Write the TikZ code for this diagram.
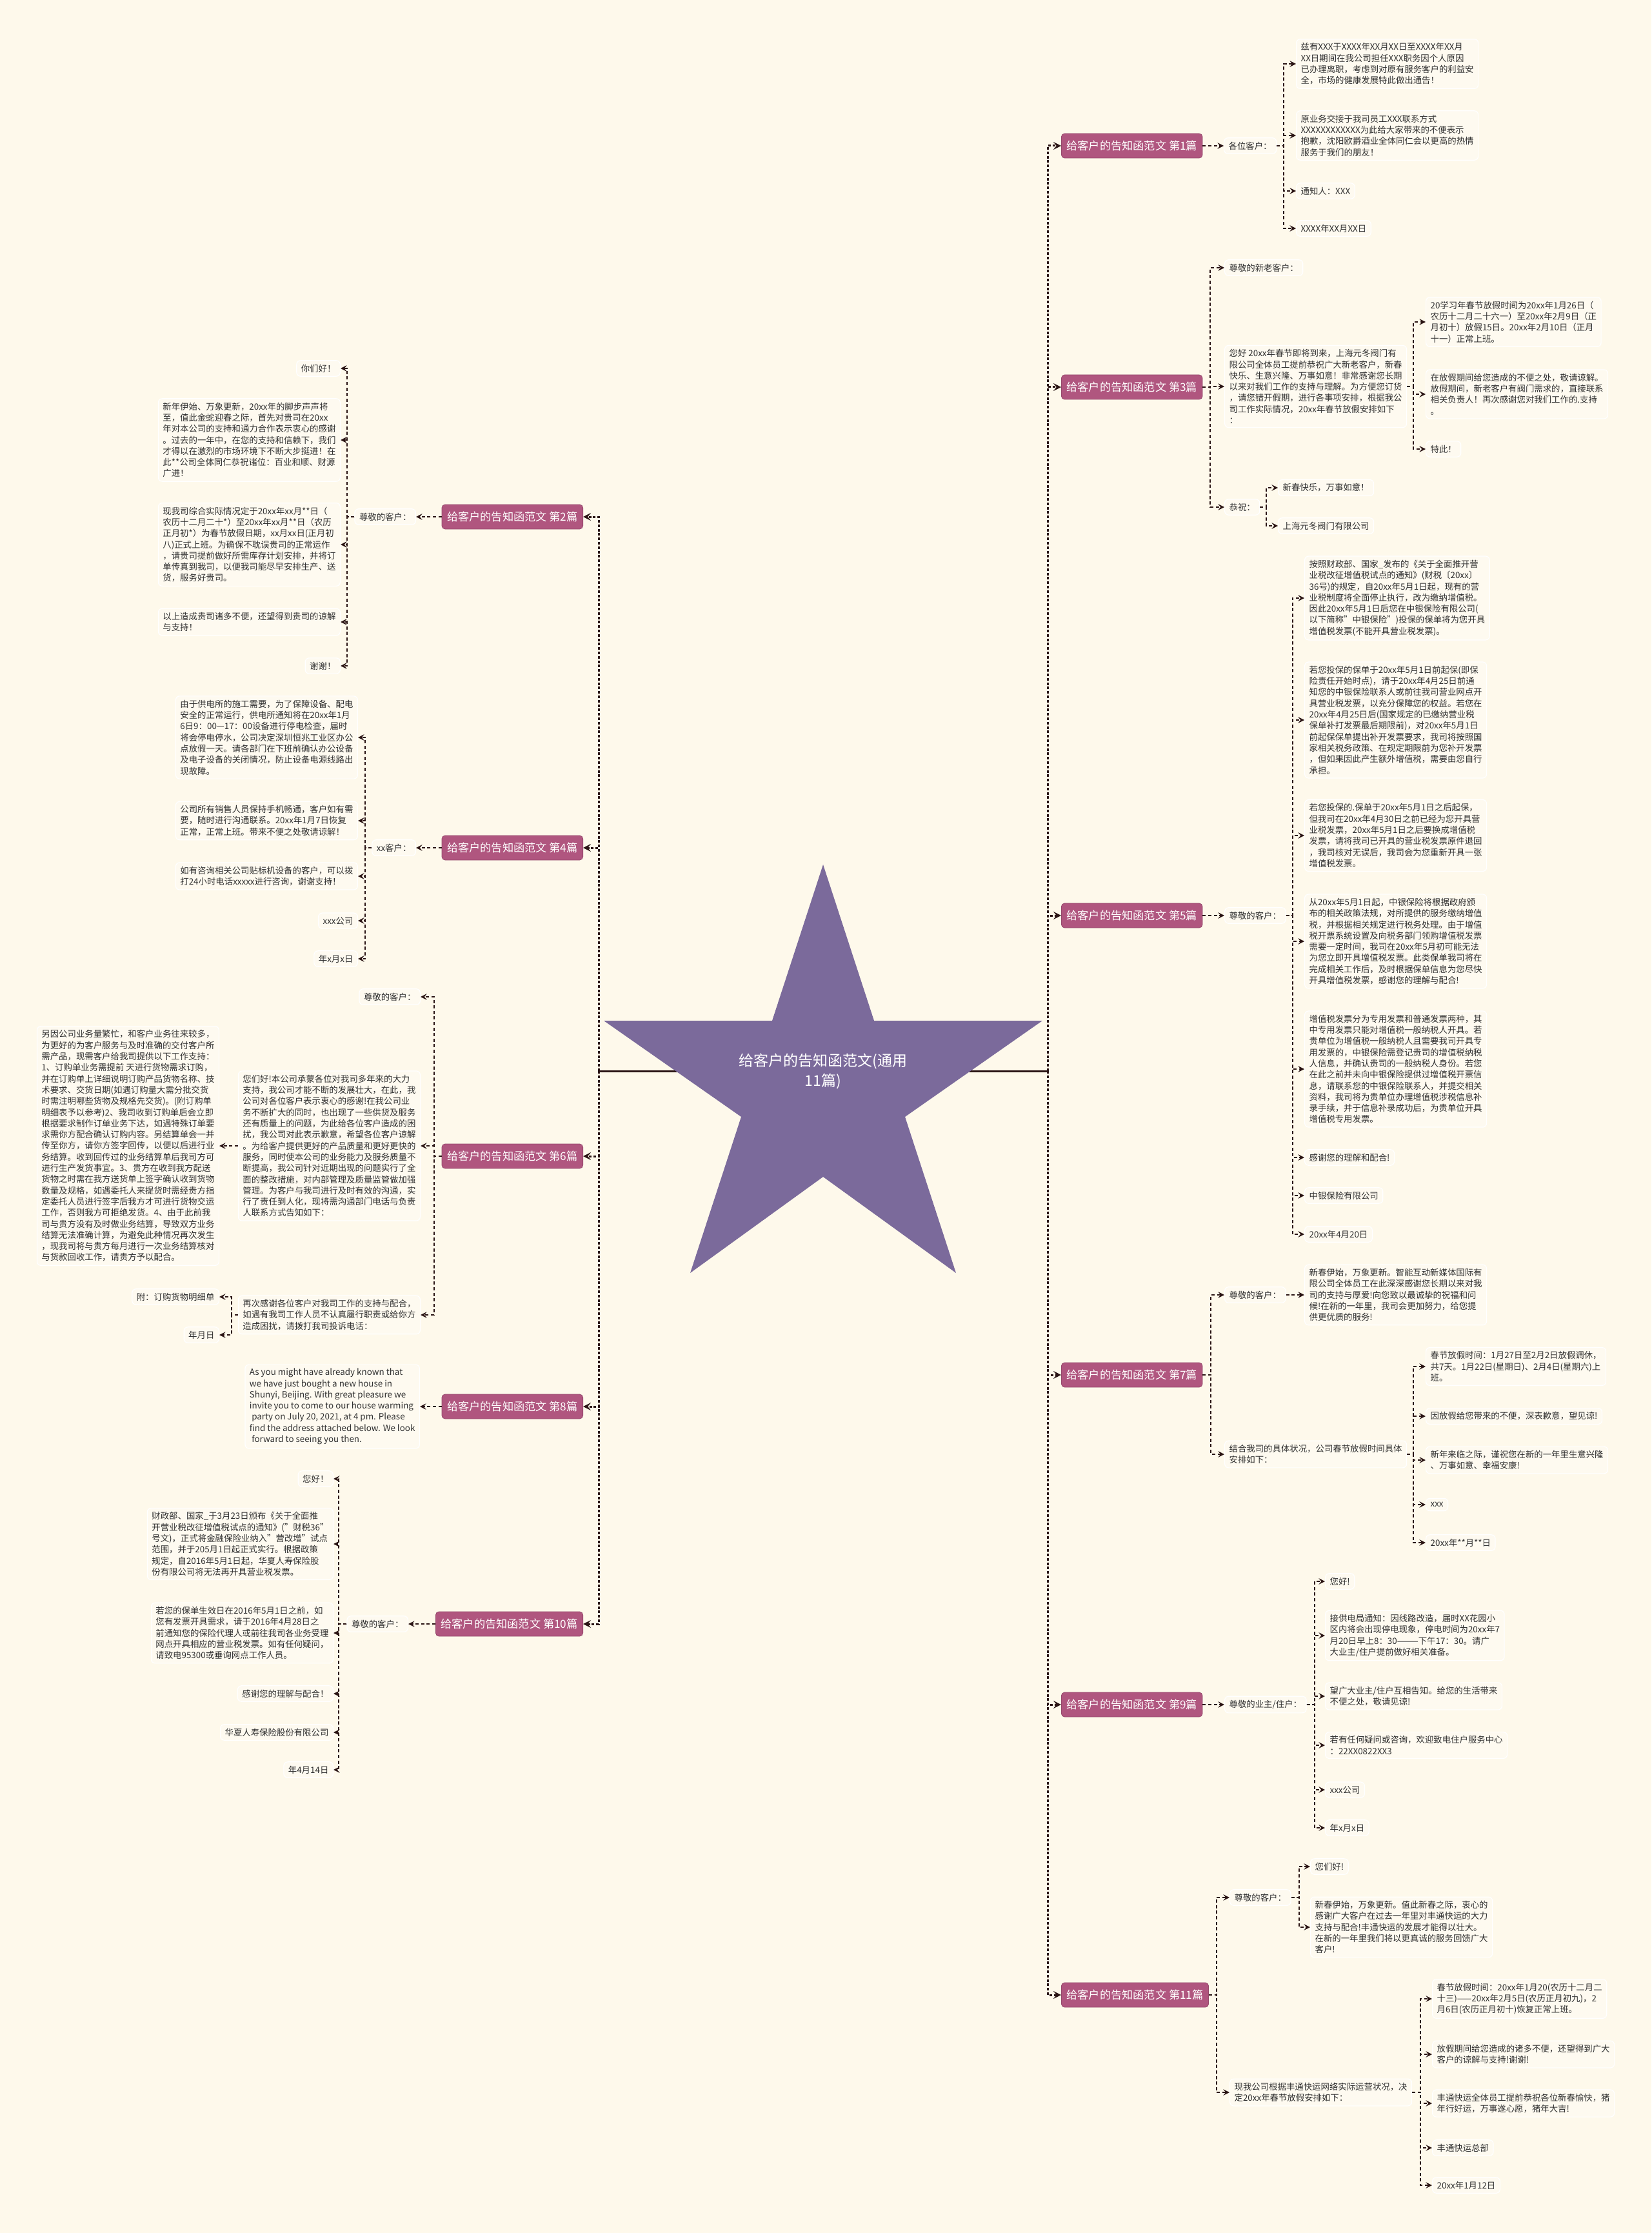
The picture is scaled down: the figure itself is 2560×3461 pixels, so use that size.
\documentclass[tikz,border=0pt]{standalone}
\usepackage{fontspec}
\setmainfont{Noto Sans CJK SC}
\usetikzlibrary{arrows.meta}
\definecolor{bgc}{HTML}{FEF9EB}
\definecolor{brc}{HTML}{B0567F}
\definecolor{starc}{HTML}{7B6A9B}
\definecolor{lnc}{HTML}{2A1414}
\definecolor{txc}{HTML}{303030}
\begin{document}
\begin{tikzpicture}[x=0.5pt,y=-0.5pt,
  lbox/.style={draw=white, fill=white!25!bgc, rounded corners=3pt, line width=0.6pt,
    inner xsep=3.5pt, inner ysep=3pt, text=txc, align=left,
    font=\fontsize{6.7pt}{8.65pt}\selectfont},
  R/.style={lbox, anchor=west},
  L/.style={lbox, anchor=east},
  brbox/.style={fill=brc, draw=brc!85!black, line width=0.4pt, rounded corners=2.5pt, text=white,
    inner xsep=4pt, minimum height=19pt, font=\fontsize{8.6pt}{10pt}\selectfont},
  brR/.style={brbox, anchor=west},
  brL/.style={brbox, anchor=east},
  conn/.style={draw=lnc, line width=0.95pt, dash pattern=on 2.5pt off 1.8pt,
    -{Stealth[length=4.8pt,width=4.8pt,inset=1.9pt]}},
  trunk/.style={draw=lnc, line width=1.5pt, dash pattern=on 2pt off 1.4pt,
    -{Stealth[length=6pt,width=6pt,inset=2.4pt]}},
  title/.style={text=white, align=center, font=\fontsize{11.5pt}{15.5pt}\selectfont}
]
\fill[bgc] (0,0) rectangle (2560,3461);
\useasboundingbox (0,0) rectangle (2560,3461);

% ---------- centre ----------
\coordinate (root) at (1276,1660);
\coordinate (lt) at (928,1660);
\coordinate (rt) at (1624,1660);
\draw[lnc, line width=1.5pt] (root) -- (lt);
\draw[lnc, line width=1.5pt] (root) -- (rt);
\fill[starc] (1276,1340) -- (1355,1582) -- (1616,1582) -- (1403,1731) -- (1482,1973)
  -- (1276,1824) -- (1070,1973) -- (1149,1731) -- (936,1582) -- (1197,1582) -- cycle;
\node[title] (ttl) at (1276,1660) {给客户的告知函范文(通用\\11篇)};

% ---------- branch boxes ----------
\node[brR] (b1) at (1645,226) {给客户的告知函范文 第1篇};
\node[brR] (b3) at (1645,600) {给客户的告知函范文 第3篇};
\node[brR] (b5) at (1645,1419) {给客户的告知函范文 第5篇};
\node[brR] (b7) at (1645,2131) {给客户的告知函范文 第7篇};
\node[brR] (b9) at (1645,2642) {给客户的告知函范文 第9篇};
\node[brR] (b11) at (1645,3092) {给客户的告知函范文 第11篇};
\node[brL] (b2) at (904,801) {给客户的告知函范文 第2篇};
\node[brL] (b4) at (904,1314) {给客户的告知函范文 第4篇};
\node[brL] (b6) at (904,1792) {给客户的告知函范文 第6篇};
\node[brL] (b8) at (904,2180) {给客户的告知函范文 第8篇};
\node[brL] (b10) at (904,2517) {给客户的告知函范文 第10篇};

\foreach \b in {b1,b3,b5,b7,b9,b11} \draw[trunk] (rt) |- (\b.west);
\foreach \b in {b2,b4,b6,b8,b10} \draw[trunk] (lt) |- (\b.east);

% ---------- branch 1 ----------
\node[R] (c1) at (1897,226) {各位客户：};
\node[R] (l1a) at (2009,99) {兹有XXX于XXXX年XX月XX日至XXXX年XX月\\XX日期间在我公司担任XXX职务因个人原因\\已办理离职，考虑到对原有服务客户的利益安\\全，市场的健康发展特此做出通告！};
\node[R] (l1b) at (2009,210) {原业务交接于我司员工XXX联系方式\\XXXXXXXXXXXX为此给大家带来的不便表示\\抱歉，沈阳欧爵酒业全体同仁会以更高的热情\\服务于我们的朋友！};
\node[R] (l1c) at (2009,296) {通知人：XXX};
\node[R] (l1d) at (2009,354) {XXXX年XX月XX日};
\draw[conn] (b1.east) -- (c1.west);
\foreach \n in {l1a,l1b,l1c,l1d} \draw[conn] (c1.east) -- ++(11,0) |- (\n.west);

% ---------- branch 3 ----------
\node[R] (c3a) at (1898,415) {尊敬的新老客户：};
\node[R] (c3b) at (1898,599) {您好 20xx年春节即将到来，上海元冬阀门有\\限公司全体员工提前恭祝广大新老客户，新春\\快乐、生意兴隆、万事如意！非常感谢您长期\\以来对我们工作的支持与理解。为方便您订货\\，请您错开假期，进行各事项安排，根据我公\\司工作实际情况，20xx年春节放假安排如下\\：};
\node[R] (c3c) at (1898,786) {恭祝：};
\node[R] (g3a) at (2210,499) {20学习年春节放假时间为20xx年1月26日（\\农历十二月二十六一）至20xx年2月9日（正\\月初十）放假15日。20xx年2月10日（正月\\十一）正常上班。};
\node[R] (g3b) at (2210,611) {在放假期间给您造成的不便之处，敬请谅解。\\放假期间，新老客户有阀门需求的，直接联系\\相关负责人！再次感谢您对我们工作的.支持\\。};
\node[R] (g3c) at (2210,696) {特此！};
\node[R] (g3d) at (1981,756) {新春快乐，万事如意！};
\node[R] (g3e) at (1981,815) {上海元冬阀门有限公司};
\foreach \n in {c3a,c3b,c3c} \draw[conn] (b3.east) -- ++(12,0) |- (\n.west);
\foreach \n in {g3a,g3b,g3c} \draw[conn] (c3b.east) -- ++(10,0) |- (\n.west);
\foreach \n in {g3d,g3e} \draw[conn] (c3c.east) -- ++(10,0) |- (\n.west);

% ---------- branch 5 ----------
\node[R] (c5) at (1898,1419) {尊敬的客户：};
\node[R] (l5a) at (2022,927) {按照财政部、国家\_发布的《关于全面推开营\\业税改征增值税试点的通知》(财税〔20xx〕\\36号)的规定，自20xx年5月1日起，现有的营\\业税制度将全面停止执行，改为缴纳增值税。\\因此20xx年5月1日后您在中银保险有限公司(\\以下简称"中银保险")投保的保单将为您开具\\增值税发票(不能开具营业税发票)。};
\node[R] (l5b) at (2022,1116) {若您投保的保单于20xx年5月1日前起保(即保\\险责任开始时点)，请于20xx年4月25日前通\\知您的中银保险联系人或前往我司营业网点开\\具营业税发票，以充分保障您的权益。若您在\\20xx年4月25日后(国家规定的已缴纳营业税\\保单补打发票最后期限前)，对20xx年5月1日\\前起保保单提出补开发票要求，我司将按照国\\家相关税务政策、在规定期限前为您补开发票\\，但如果因此产生额外增值税，需要由您自行\\承担。};
\node[R] (l5c) at (2022,1295) {若您投保的.保单于20xx年5月1日之后起保，\\但我司在20xx年4月30日之前已经为您开具营\\业税发票，20xx年5月1日之后要换成增值税\\发票，请将我司已开具的营业税发票原件退回\\，我司核对无误后，我司会为您重新开具一张\\增值税发票。};
\node[R] (l5d) at (2022,1459) {从20xx年5月1日起，中银保险将根据政府颁\\布的相关政策法规，对所提供的服务缴纳增值\\税，并根据相关规定进行税务处理。由于增值\\税开票系统设置及向税务部门领购增值税发票\\需要一定时间，我司在20xx年5月初可能无法\\为您立即开具增值税发票。此类保单我司将在\\完成相关工作后，及时根据保单信息为您尽快\\开具增值税发票，感谢您的理解与配合!};
\node[R] (l5e) at (2022,1657) {增值税发票分为专用发票和普通发票两种，其\\中专用发票只能对增值税一般纳税人开具。若\\贵单位为增值税一般纳税人且需要我司开具专\\用发票的，中银保险需登记贵司的增值税纳税\\人信息，并确认贵司的一般纳税人身份。若您\\在此之前并未向中银保险提供过增值税开票信\\息，请联系您的中银保险联系人，并提交相关\\资料，我司将为贵单位办理增值税涉税信息补\\录手续，并于信息补录成功后，为贵单位开具\\增值税专用发票。};
\node[R] (l5f) at (2022,1794) {感谢您的理解和配合!};
\node[R] (l5g) at (2022,1853) {中银保险有限公司};
\node[R] (l5h) at (2022,1913) {20xx年4月20日};
\draw[conn] (b5.east) -- (c5.west);
\foreach \n in {l5a,l5b,l5c,l5d,l5e,l5f,l5g,l5h} \draw[conn] (c5.east) -- ++(10,0) |- (\n.west);

% ---------- branch 7 ----------
\node[R] (c7a) at (1898,2007) {尊敬的客户：};
\node[R] (g7a) at (2022,2007) {新春伊始，万象更新。智能互动新媒体国际有\\限公司全体员工在此深深感谢您长期以来对我\\司的支持与厚爱!向您致以最诚挚的祝福和问\\候!在新的一年里，我司会更加努力，给您提\\供更优质的服务!};
\node[R] (c7b) at (1898,2254) {结合我司的具体状况，公司春节放假时间具体\\安排如下：};
\node[R] (g7b) at (2210,2118) {春节放假时间：1月27日至2月2日放假调休，\\共7天。1月22日(星期日)、2月4日(星期六)上\\班。};
\node[R] (g7c) at (2210,2195) {因放假给您带来的不便，深表歉意，望见谅!};
\node[R] (g7d) at (2210,2263) {新年来临之际，谨祝您在新的一年里生意兴隆\\、万事如意、幸福安康!};
\node[R] (g7e) at (2210,2332) {xxx};
\node[R] (g7f) at (2210,2391) {20xx年**月**日};
\foreach \n in {c7a,c7b} \draw[conn] (b7.east) -- ++(13,0) |- (\n.west);
\draw[conn] (c7a.east) -- (g7a.west);
\foreach \n in {g7b,g7c,g7d,g7e,g7f} \draw[conn] (c7b.east) -- ++(10,0) |- (\n.west);

% ---------- branch 9 ----------
\node[R] (c9) at (1898,2642) {尊敬的业主/住户：};
\node[R] (l9a) at (2054,2451) {您好!};
\node[R] (l9b) at (2054,2535) {接供电局通知：因线路改造，届时XX花园小\\区内将会出现停电现象，停电时间为20xx年7\\月20日早上8：30———下午17：30。请广\\大业主/住户提前做好相关准备。};
\node[R] (l9c) at (2054,2629) {望广大业主/住户互相告知。给您的生活带来\\不便之处，敬请见谅!};
\node[R] (l9d) at (2054,2705) {若有任何疑问或咨询，欢迎致电住户服务中心\\：22XX0822XX3};
\node[R] (l9e) at (2054,2774) {xxx公司};
\node[R] (l9f) at (2054,2833) {年x月x日};
\draw[conn] (b9.east) -- (c9.west);
\foreach \n in {l9a,l9b,l9c,l9d,l9e,l9f} \draw[conn] (c9.east) -- ++(12,0) |- (\n.west);

% ---------- branch 11 ----------
\node[R] (c11a) at (1906,2941) {尊敬的客户：};
\node[R] (g11a) at (2031,2893) {您们好!};
\node[R] (g11b) at (2031,2987) {新春伊始，万象更新。值此新春之际，衷心的\\感谢广大客户在过去一年里对丰通快运的大力\\支持与配合!丰通快运的发展才能得以壮大。\\在新的一年里我们将以更真诚的服务回馈广大\\客户!};
\node[R] (c11b) at (1906,3243) {现我公司根据丰通快运网络实际运营状况，决\\定20xx年春节放假安排如下：};
\node[R] (g11c) at (2220,3098) {春节放假时间：20xx年1月20(农历十二月二\\十三)——20xx年2月5日(农历正月初九)，2\\月6日(农历正月初十)恢复正常上班。};
\node[R] (g11d) at (2220,3184) {放假期间给您造成的诸多不便，还望得到广大\\客户的谅解与支持!谢谢!};
\node[R] (g11e) at (2220,3260) {丰通快运全体员工提前恭祝各位新春愉快，猪\\年行好运，万事遂心愿，猪年大吉!};
\node[R] (g11f) at (2220,3329) {丰通快运总部};
\node[R] (g11g) at (2220,3387) {20xx年1月12日};
\foreach \n in {c11a,c11b} \draw[conn] (b11.east) -- ++(12,0) |- (\n.west);
\foreach \n in {g11a,g11b} \draw[conn] (c11a.east) -- ++(12,0) |- (\n.west);
\foreach \n in {g11c,g11d,g11e,g11f,g11g} \draw[conn] (c11b.east) -- ++(13,0) |- (\n.west);

% ---------- branch 2 ----------
\node[L] (c2) at (645,801) {尊敬的客户：};
\node[L] (l2a) at (528,571) {你们好！};
\node[L] (l2b) at (528,682) {新年伊始、万象更新，20xx年的脚步声声将\\至，值此金蛇迎春之际，首先对贵司在20xx\\年对本公司的支持和通力合作表示衷心的感谢\\。过去的一年中，在您的支持和信赖下，我们\\才得以在激烈的市场环境下不断大步挺进！在\\此**公司全体同仁恭祝诸位：百业和顺、财源\\广进！};
\node[L] (l2c) at (528,844) {现我司综合实际情况定于20xx年xx月**日（\\农历十二月二十*）至20xx年xx月**日（农历\\正月初*）为春节放假日期，xx月xx日(正月初\\八)正式上班。为确保不耽误贵司的正常运作\\，请贵司提前做好所需库存计划安排，并将订\\单传真到我司，以便我司能尽早安排生产、送\\货，服务好贵司。};
\node[L] (l2d) at (528,964) {以上造成贵司诸多不便，还望得到贵司的谅解\\与支持！};
\node[L] (l2e) at (528,1032) {谢谢！};
\draw[conn] (b2.west) -- (c2.east);
\foreach \n in {l2a,l2b,l2c,l2d,l2e} \draw[conn] (c2.west) -- ++(-11,0) |- (\n.east);

% ---------- branch 4 ----------
\node[L] (c4) at (645,1314) {xx客户：};
\node[L] (l4a) at (555,1143) {由于供电所的施工需要，为了保障设备、配电\\安全的正常运行，供电所通知将在20xx年1月\\6日9：00—17：00设备进行停电检查，届时\\将会停电停水，公司决定深圳恒兆工业区办公\\点放假一天。请各部门在下班前确认办公设备\\及电子设备的关闭情况，防止设备电源线路出\\现故障。};
\node[L] (l4b) at (555,1272) {公司所有销售人员保持手机畅通，客户如有需\\要，随时进行沟通联系。20xx年1月7日恢复\\正常，正常上班。带来不便之处敬请谅解！};
\node[L] (l4c) at (555,1358) {如有咨询相关公司贴标机设备的客户，可以拨\\打24小时电话xxxxx进行咨询，谢谢支持！};
\node[L] (l4d) at (555,1427) {xxx公司};
\node[L] (l4e) at (555,1486) {年x月x日};
\draw[conn] (b4.west) -- (c4.east);
\foreach \n in {l4a,l4b,l4c,l4d,l4e} \draw[conn] (c4.west) -- ++(-10,0) |- (\n.east);

% ---------- branch 6 ----------
\node[L] (c6a) at (652,1545) {尊敬的客户：};
\node[L] (c6b) at (652,1776) {您们好!本公司承蒙各位对我司多年来的大力\\支持，我公司才能不断的发展壮大，在此，我\\公司对各位客户表示衷心的感谢!在我公司业\\务不断扩大的同时，也出现了一些供货及服务\\还有质量上的问题，为此给各位客户造成的困\\扰，我公司对此表示歉意，希望各位客户谅解\\。为给客户提供更好的产品质量和更好更快的\\服务，同时使本公司的业务能力及服务质量不\\断提高，我公司针对近期出现的问题实行了全\\面的整改措施，对内部管理及质量监管做加强\\管理。为客户与我司进行及时有效的沟通，实\\行了责任到人化，现将需沟通部门电话与负责\\人联系方式告知如下：};
\node[L] (g6a) at (340,1776) {另因公司业务量繁忙，和客户业务往来较多，\\为更好的为客户服务与及时准确的交付客户所\\需产品，现需客户给我司提供以下工作支持：\\1、订购单业务需提前 天进行货物需求订购，\\并在订购单上详细说明订购产品货物名称、技\\术要求、交货日期(如遇订购量大需分批交货\\时需注明哪些货物及规格先交货)。(附订购单\\明细表予以参考)2、我司收到订购单后会立即\\根据要求制作订单业务下达，如遇特殊订单要\\求需你方配合确认订购内容。另结算单会一并\\传至你方，请你方签字回传，以便以后进行业\\务结算。收到回传过的业务结算单后我司方可\\进行生产发货事宜。3、贵方在收到我方配送\\货物之时需在我方送货单上签字确认收到货物\\数量及规格，如遇委托人来提货时需经贵方指\\定委托人员进行签字后我方才可进行货物交运\\工作，否则我方可拒绝发货。4、由于此前我\\司与贵方没有及时做业务结算，导致双方业务\\结算无法准确计算，为避免此种情况再次发生\\，现我司将与贵方每月进行一次业务结算核对\\与货款回收工作，请贵方予以配合。};
\node[L] (c6c) at (652,2038) {再次感谢各位客户对我司工作的支持与配合，\\如遇有我司工作人员不认真履行职责或给你方\\造成困扰，请拨打我司投诉电话：};
\node[L] (g6b) at (340,2010) {附：订购货物明细单};
\node[L] (g6c) at (340,2069) {年月日};
\foreach \n in {c6a,c6b,c6c} \draw[conn] (b6.west) -- ++(-12,0) |- (\n.east);
\draw[conn] (c6b.west) -- (g6a.east);
\foreach \n in {g6b,g6c} \draw[conn] (c6c.west) -- ++(-10,0) |- (\n.east);

% ---------- branch 8 ----------
\node[L] (c8) at (651,2180) {As you might have already known that\\we have just bought a new house in\\Shunyi, Beijing. With great pleasure we\\invite you to come to our house warming\\\hspace*{1.7pt}party on July 20, 2021, at 4 pm. Please\\find the address attached below. We look\\\hspace*{1.7pt}forward to seeing you then.};
\draw[conn] (b8.west) -- (c8.east);

% ---------- branch 10 ----------
\node[L] (c10) at (633,2517) {尊敬的客户：};
\node[L] (l10a) at (517,2292) {您好！};
\node[L] (l10b) at (517,2393) {财政部、国家\_于3月23日颁布《关于全面推\\开营业税改征增值税试点的通知》("财税36"\\号文)，正式将金融保险业纳入"营改增"试点\\范围，并于205月1日起正式实行。根据政策\\规定，自2016年5月1日起，华夏人寿保险股\\份有限公司将无法再开具营业税发票。};
\node[L] (l10c) at (517,2531) {若您的保单生效日在2016年5月1日之前，如\\您有发票开具需求，请于2016年4月28日之\\前通知您的保险代理人或前往我司各业务受理\\网点开具相应的营业税发票。如有任何疑问，\\请致电95300或垂询网点工作人员。};
\node[L] (l10d) at (517,2625) {感谢您的理解与配合！};
\node[L] (l10e) at (517,2685) {华夏人寿保险股份有限公司};
\node[L] (l10f) at (517,2743) {年4月14日};
\draw[conn] (b10.west) -- (c10.east);
\foreach \n in {l10a,l10b,l10c,l10d,l10e,l10f} \draw[conn] (c10.west) -- ++(-12,0) |- (\n.east);
\end{tikzpicture}
\end{document}
